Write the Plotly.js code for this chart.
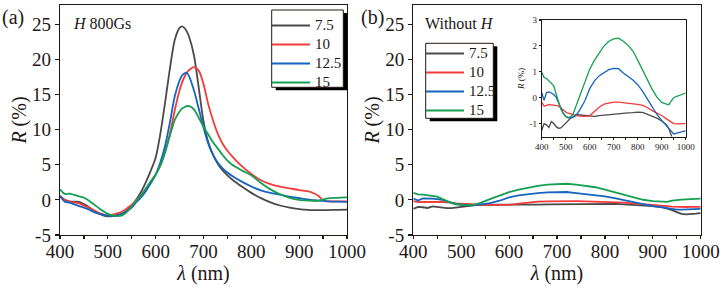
<!DOCTYPE html>
<html>
<head>
<meta charset="utf-8">
<script src="https://cdn.plot.ly/plotly-3.0.1.min.js"></script>
<style>html,body{margin:0;padding:0;background:#fff;}#chart{width:725px;height:288px;}</style>
</head>
<body>
<div id="chart"></div>
<script>
// ---- Data: panel (a), H = 800 Gs ----
const seriesNames = ['7.5', '10', '12.5', '15'];
const wlA = [400,410,420,430,440,450,460,470,480,490,500,510,520,530,540,550,560,570,580,590,600,610,620,630,640,650,655,660,665,670,680,690,700,710,720,730,740,750,760,780,800,820,840,860,880,900,920,930,940,950,960,980,1000];
const rA75 = [0.5,0.0,-0.2,-0.25,-0.3,-0.6,-1.0,-1.5,-1.9,-2.2,-2.35,-2.3,-2.15,-1.95,-1.5,-0.8,0.1,1.2,2.6,4.2,6.0,9.5,14.0,18.8,22.8,24.5,24.7,24.5,24.0,23.2,20.6,16.0,11.2,8.2,6.4,5.1,4.2,3.5,2.9,1.9,1.0,0.25,-0.35,-0.8,-1.1,-1.3,-1.42,-1.45,-1.45,-1.45,-1.45,-1.42,-1.4];
const rA10 = [0.6,0.0,-0.3,-0.35,-0.5,-0.8,-1.1,-1.45,-1.8,-2.05,-2.2,-2.1,-1.9,-1.65,-1.2,-0.7,0.0,0.7,1.6,2.6,3.6,5.0,7.0,9.5,12.8,15.6,16.7,17.5,18.1,18.5,18.9,18.4,16.5,13.6,11.3,9.4,8.0,7.0,6.2,4.8,3.7,2.8,2.25,1.9,1.65,1.4,1.2,0.95,0.6,-0.05,-0.2,-0.2,-0.2];
const rA125 = [0.6,-0.25,-0.4,-0.65,-0.9,-1.1,-1.35,-1.7,-1.95,-2.1,-2.25,-2.3,-2.2,-2.0,-1.6,-1.1,-0.3,0.4,1.3,2.4,3.6,5.4,7.8,11.1,14.8,17.0,17.7,18.0,18.1,17.6,15.6,13.0,10.3,8.0,6.4,5.3,4.5,3.9,3.4,2.6,1.9,1.35,1.0,0.75,0.45,0.25,0.05,-0.05,-0.1,-0.15,-0.2,-0.25,-0.27];
const rA15 = [1.5,0.85,0.9,0.7,0.5,0.3,-0.1,-0.6,-1.1,-1.6,-2.0,-2.2,-2.3,-2.2,-1.7,-0.9,-0.1,0.7,1.7,2.7,3.6,4.9,6.8,9.2,11.4,12.6,13.0,13.2,13.35,13.35,12.9,11.7,10.4,9.3,8.2,7.3,6.4,5.6,5.0,4.2,3.5,2.4,1.5,0.8,0.3,0.0,-0.1,-0.12,-0.12,0.05,0.22,0.3,0.35];

// ---- Data: panel (b), without H (main plot and inset) ----
const wlB = [400,410,420,430,440,450,460,470,480,490,500,510,520,530,540,550,560,580,600,620,640,660,680,700,720,740,760,780,800,820,840,860,880,900,920,930,940,950,960,970,980,990,1000];
const rB75 = [-1.27,-1.0,-1.05,-1.15,-0.92,-1.0,-1.12,-1.18,-1.17,-1.07,-0.97,-0.88,-0.8,-0.75,-0.7,-0.66,-0.67,-0.69,-0.71,-0.72,-0.69,-0.67,-0.65,-0.63,-0.62,-0.6,-0.59,-0.58,-0.56,-0.57,-0.64,-0.71,-0.79,-0.9,-1.05,-1.2,-1.45,-1.75,-1.98,-2.05,-2.03,-1.95,-1.88];
const rB10 = [-0.17,-0.33,-0.3,-0.27,-0.28,-0.3,-0.3,-0.32,-0.4,-0.49,-0.55,-0.6,-0.63,-0.66,-0.69,-0.7,-0.71,-0.72,-0.7,-0.52,-0.36,-0.25,-0.2,-0.17,-0.17,-0.19,-0.2,-0.23,-0.26,-0.3,-0.38,-0.5,-0.58,-0.69,-0.82,-0.88,-0.95,-1.0,-1.01,-1.01,-1.0,-1.0,-1.0];
const rB125 = [0.2,-0.1,0.2,0.22,0.18,0.12,0.02,-0.2,-0.42,-0.6,-0.72,-0.78,-0.78,-0.75,-0.68,-0.6,-0.45,-0.12,0.35,0.65,0.85,0.97,1.08,1.13,1.12,0.95,0.82,0.68,0.5,0.25,-0.05,-0.35,-0.65,-0.88,-1.08,-1.18,-1.3,-1.4,-1.38,-1.36,-1.33,-1.3,-1.27];
const rB15 = [0.99,0.78,0.74,0.65,0.6,0.47,0.15,-0.2,-0.45,-0.62,-0.73,-0.76,-0.74,-0.65,-0.42,-0.2,0.1,0.6,1.1,1.45,1.75,2.0,2.18,2.27,2.3,2.18,2.02,1.8,1.45,1.07,0.68,0.33,0.02,-0.18,-0.25,-0.27,-0.12,0.0,0.04,0.08,0.12,0.15,0.18];

// ---- Tick labels ----
const xTickVals = [400,500,600,700,800,900,1000];
const xTickText = ['400','500','600','700','800','900','1000'];
const yTickVals = [-5,0,5,10,15,20,25];
const yTickText = ['-5','0','5','10','15','20','25'];
const insetYTickVals = [-1,0,1,2,3];
const insetYTickText = ['-1','0','1','2','3'];

const colors = ['#4a4a4a','#f23b3b','#1663c0','#14a050'];
const ink = '#231815';
const serif = 'Liberation Serif';

const W = 725, H = 288;
const px = v => v / W;
const py = v => 1 - v / H;

const legendName = s => '<span style="font-size:15px">' + s + '</span>';

const dataA = [rA75, rA10, rA125, rA15];
const dataB = [rB75, rB10, rB125, rB15];
const traces = [];
dataA.forEach((ys, i) => traces.push({
  x: wlA, y: ys, name: legendName(seriesNames[i]), type: 'scatter', mode: 'lines',
  line: {color: colors[i], width: 1.8, shape: 'spline', smoothing: 0.8},
  xaxis: 'x', yaxis: 'y', legend: 'legend'
}));
dataB.forEach((ys, i) => traces.push({
  x: wlB, y: ys, name: legendName(seriesNames[i]), type: 'scatter', mode: 'lines',
  line: {color: colors[i], width: 1.8},
  xaxis: 'x2', yaxis: 'y2', legend: 'legend2'
}));
dataB.forEach((ys, i) => traces.push({
  x: wlB, y: ys, name: seriesNames[i], type: 'scatter', mode: 'lines',
  line: {color: colors[i], width: 1.3},
  xaxis: 'x3', yaxis: 'y3', showlegend: false
}));

const axBase = {
  showline: true, linecolor: ink, linewidth: 1.3, mirror: true,
  ticks: 'outside', ticklen: 4, tickwidth: 1.2, tickcolor: ink,
  showgrid: false, zeroline: false, automargin: false,
  tickfont: {family: serif, size: 19, color: ink}
};
const xMain = Object.assign({}, axBase, {
  range: [400, 1000], tickvals: xTickVals, ticktext: xTickText, ticklen: 3,
  ticklabelstandoff: -4,
  minor: {dtick: 50, tick0: 400, ticks: 'outside', ticklen: 3, tickcolor: ink},
  title: {text: '<i>λ</i> (nm)', font: {family: serif, size: 20, color: ink}, standoff: 2}
});
const yMain = Object.assign({}, axBase, {
  range: [-5, 27.75], tickvals: yTickVals, ticktext: yTickText,
  title: {text: '<i>R</i> (%)', font: {family: serif, size: 20, color: ink}, standoff: 0}
});

const yDom = [py(235), py(5)];
const legendBase = {
  xanchor: 'left', yanchor: 'top',
  bgcolor: 'rgba(0,0,0,0)', borderwidth: 0, itemwidth: 38,
  font: {family: serif, size: 11, color: ink}, tracegroupgap: 0
};
const layout = {
  width: W, height: H,
  margin: {l: 0, r: 0, t: 0, b: 0},
  paper_bgcolor: '#ffffff', plot_bgcolor: 'rgba(0,0,0,0)',
  font: {family: serif, color: ink},
  xaxis: Object.assign({}, xMain, {domain: [px(60), px(347)], anchor: 'y'}),
  yaxis: Object.assign({}, yMain, {domain: yDom, anchor: 'x'}),
  xaxis2: Object.assign({}, xMain, {domain: [px(413.3), px(700.7)], anchor: 'y2'}),
  yaxis2: Object.assign({}, yMain, {domain: yDom, anchor: 'x2'}),
  xaxis3: Object.assign({}, axBase, {
    domain: [px(541.7), px(685.7)], anchor: 'y3', range: [400, 1000],
    tickvals: xTickVals, ticktext: xTickText, ticklen: 2, linewidth: 1,
    minor: {dtick: 50, tick0: 400, ticks: 'outside', ticklen: 2, tickcolor: ink},
    tickfont: {family: serif, size: 9, color: ink}
  }),
  yaxis3: Object.assign({}, axBase, {
    domain: [py(136.5), py(20)], anchor: 'x3', range: [-1.5, 3],
    tickvals: insetYTickVals, ticktext: insetYTickText, ticklen: 2, linewidth: 1,
    tickfont: {family: serif, size: 9, color: ink},
    title: {text: '<i>R</i> (%)', font: {family: serif, size: 9, color: ink}, standoff: 3}
  }),
  showlegend: true,
  legend: Object.assign({}, legendBase, {x: px(267), y: py(11)}),
  legend2: Object.assign({}, legendBase, {x: px(421), y: py(39)}),
  shapes: [
    {type: 'rect', xref: 'paper', yref: 'paper', layer: 'above',
     x0: px(275.7), x1: px(347.3), y0: py(90.3), y1: py(13), fillcolor: '#000', line: {width: 0}},
    {type: 'rect', xref: 'paper', yref: 'paper', layer: 'above',
     x0: px(271.7), x1: px(343.3), y0: py(87.3), y1: py(10), fillcolor: '#fff', line: {color: ink, width: 1}},
    {type: 'rect', xref: 'paper', yref: 'paper', layer: 'above',
     x0: px(429.7), x1: px(497.3), y0: py(121.3), y1: py(46.3), fillcolor: '#000', line: {width: 0}},
    {type: 'rect', xref: 'paper', yref: 'paper', layer: 'above',
     x0: px(425.7), x1: px(493.3), y0: py(118.3), y1: py(43.3), fillcolor: '#fff', line: {color: ink, width: 1}}
  ],
  annotations: [
    {text: '(a)', xref: 'paper', yref: 'paper', x: px(0), y: py(17), xanchor: 'left', yanchor: 'middle',
     showarrow: false, font: {family: serif, size: 20, color: ink}},
    {text: '(b)', xref: 'paper', yref: 'paper', x: px(359), y: py(17), xanchor: 'left', yanchor: 'middle',
     showarrow: false, font: {family: serif, size: 20, color: ink}},
    {text: '<i>H</i> 800Gs', xref: 'paper', yref: 'paper', x: px(71), y: py(23), xanchor: 'left', yanchor: 'middle',
     showarrow: false, font: {family: serif, size: 16, color: ink}},
    {text: 'Without <i>H</i>', xref: 'paper', yref: 'paper', x: px(423), y: py(23), xanchor: 'left', yanchor: 'middle',
     showarrow: false, font: {family: serif, size: 16, color: ink}}
  ]
};

Plotly.newPlot('chart', traces, layout, {staticPlot: true, displayModeBar: false});
</script>
</body>
</html>
